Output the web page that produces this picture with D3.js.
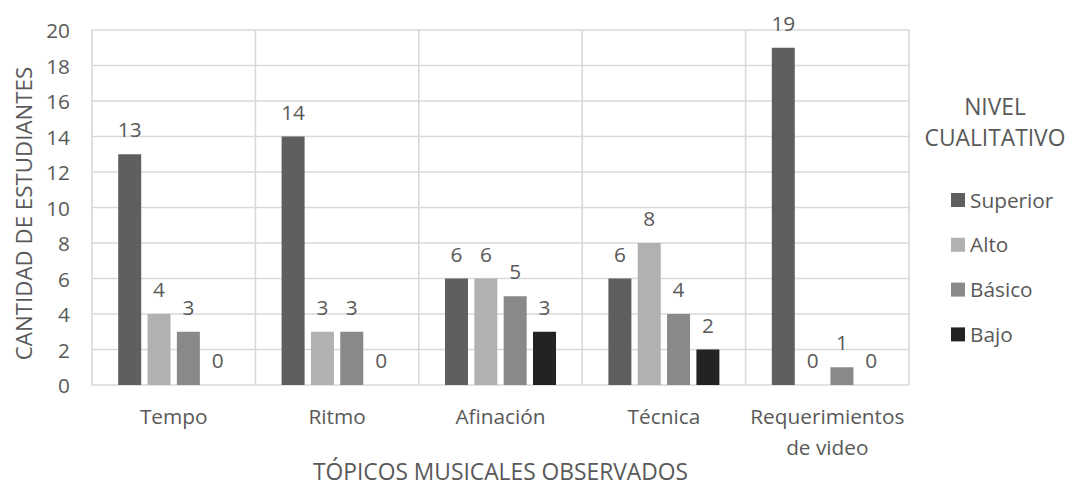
<!DOCTYPE html>
<html>
<head>
<meta charset="utf-8">
<script src="https://cdn.jsdelivr.net/npm/d3@7"></script>
<style>
  html, body { margin: 0; padding: 0; background: #fff; }
  text { font-family: "Open Sans", sans-serif; fill: #595959; }
</style>
</head>
<body>
<svg id="chart" width="1068" height="495"></svg>
<script>
const categories = ["Tempo", "Ritmo", "Afinación", "Técnica", "Requerimientos de video"];
const seriesNames = ["Superior", "Alto", "Básico", "Bajo"];
const superior = [13, 14, 6, 6, 19];
const alto = [4, 3, 6, 8, 0];
const basico = [3, 3, 5, 4, 1];
const bajo = [0, 0, 3, 2, 0];
const yTicks = [0, 2, 4, 6, 8, 10, 12, 14, 16, 18, 20];
const colors = ["#5f5f5f", "#b1b1b1", "#898989", "#232323"];

const seriesValues = [superior, alto, basico, bajo];
const rows = categories.map((c, i) => ({
  cat: c,
  vals: seriesNames.map((s, j) => ({ key: s, value: seriesValues[j][i], idx: j }))
}));

const svg = d3.select("#chart");
const fs = 20.8;
const fsT = 22.8;
const m = { left: 92, right: 909, top: 30, bottom: 385 };

const x0 = d3.scaleBand().domain(categories).range([m.left, m.right]).padding(0);
const bw = x0.bandwidth();
const groupW = 111;
const x1 = d3.scaleBand().domain(seriesNames)
  .range([(bw - groupW) / 2, (bw + groupW) / 2]).paddingInner(0.216).paddingOuter(0);
const y = d3.scaleLinear().domain([0, 20]).range([m.bottom, m.top]);

const grid = svg.append("g");
grid.selectAll("line.h").data(yTicks).join("line")
  .attr("x1", m.left).attr("x2", m.right)
  .attr("y1", d => y(d)).attr("y2", d => y(d))
  .attr("stroke", "#d9d9d9").attr("stroke-width", 1.6);
const bounds = categories.map(c => x0(c)).concat([m.right]);
grid.selectAll("line.v").data(bounds).join("line")
  .attr("x1", d => d).attr("x2", d => d)
  .attr("y1", m.top).attr("y2", m.bottom)
  .attr("stroke", "#d9d9d9").attr("stroke-width", 1.6);

const yAxis = d3.axisLeft(y).tickValues(yTicks).tickSize(0).tickPadding(0);
const yg = svg.append("g").attr("transform", `translate(${m.left - 22},0)`).call(yAxis);
yg.select(".domain").remove();
yg.selectAll("text").style("font-size", fs + "px").attr("fill", "#595959")
  .style("font-family", "'Open Sans', sans-serif").attr("dy", "0.36em");

const groups = svg.append("g").selectAll("g").data(rows).join("g")
  .attr("transform", d => `translate(${x0(d.cat)},0)`);
groups.selectAll("rect").data(d => d.vals).join("rect")
  .attr("x", d => x1(d.key)).attr("width", x1.bandwidth())
  .attr("y", d => y(d.value)).attr("height", d => y(0) - y(d.value))
  .attr("fill", d => colors[d.idx]);
groups.selectAll("text").data(d => d.vals).join("text")
  .attr("x", d => x1(d.key) + x1.bandwidth() / 2)
  .attr("y", d => y(d.value) - 17)
  .attr("text-anchor", "middle").style("font-size", fs + "px")
  .text(d => d.value);

const xAxis = d3.axisBottom(x0).tickSize(0).tickPadding(0);
const xg = svg.append("g").attr("transform", `translate(0,${m.bottom})`).call(xAxis);
xg.select(".domain").remove();
xg.selectAll("text").style("font-size", fs + "px").attr("fill", "#595959")
  .style("font-family", "'Open Sans', sans-serif")
  .attr("y", 0).attr("dy", 0)
  .each(function(d) {
    const t = d3.select(this);
    const words = d.split(" ");
    t.text(null);
    let lines = [], line = [];
    const tmp = t.append("tspan");
    words.forEach(w => {
      line.push(w);
      tmp.text(line.join(" "));
      if (tmp.node().getComputedTextLength() > bw - 10 && line.length > 1) {
        line.pop();
        lines.push(line.join(" "));
        line = [w];
      }
    });
    lines.push(line.join(" "));
    tmp.remove();
    lines.forEach((l, i) => {
      t.append("tspan").attr("x", 0).attr("y", 39 + i * 31).text(l);
    });
  });

svg.append("text").attr("x", (m.left + m.right) / 2 - 0).attr("y", 480)
  .attr("text-anchor", "middle").style("font-size", fsT + "px")
  .text("TÓPICOS MUSICALES OBSERVADOS");
svg.append("text").attr("transform", `translate(32,${(m.top + m.bottom) / 2 + 6}) rotate(-90)`)
  .attr("text-anchor", "middle").style("font-size", "22.3px")
  .text("CANTIDAD DE ESTUDIANTES");

svg.append("text").attr("x", 995).attr("y", 115).attr("text-anchor", "middle")
  .style("font-size", fsT + "px").text("NIVEL");
svg.append("text").attr("x", 995).attr("y", 146).attr("text-anchor", "middle")
  .style("font-size", fsT + "px").text("CUALITATIVO");
const lg = svg.append("g").selectAll("g").data(seriesNames).join("g")
  .attr("transform", (d, i) => `translate(951,${200 + i * 44.8})`);
lg.append("rect").attr("x", 0).attr("y", -7).attr("width", 14).attr("height", 14)
  .attr("fill", (d, i) => colors[i]);
lg.append("text").attr("x", 19).attr("y", 0).attr("dy", "0.36em")
  .style("font-size", fs + "px").text(d => d);
</script>
</body>
</html>
